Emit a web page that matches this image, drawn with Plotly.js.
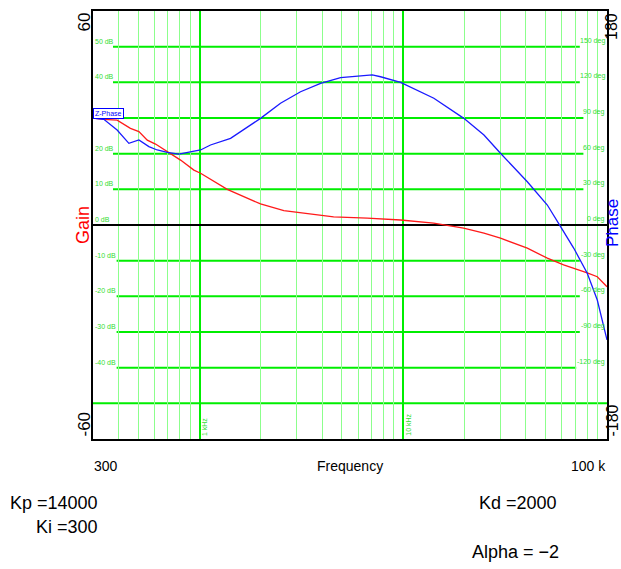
<!DOCTYPE html>
<html>
<head>
<meta charset="utf-8">
<script src="https://cdn.plot.ly/plotly-3.0.1.min.js"></script>
<style>
  html, body { margin: 0; padding: 0; background: #fff; }
  #chart { width: 621px; height: 569px; }
</style>
</head>
<body>
<div id="chart"></div>
<script>
// ---- data ----
const freqGain = [300, 339, 394, 458, 504, 554, 608, 656, 720, 807, 938, 1012, 1368, 1992, 2594, 3379, 4550, 6657, 9700, 14090, 19780, 24890, 30000, 40630, 50940, 61240, 71490, 80000, 89600, 100000];
const gainDb = [30.0, 29.6, 29.4, 27.1, 26.2, 23.8, 22.7, 21.5, 20.1, 18.2, 15.4, 14.5, 10.0, 5.9, 4.0, 3.1, 2.3, 1.9, 1.4, 0.5, -0.9, -2.3, -3.7, -6.5, -9.3, -11.2, -12.4, -13.4, -14.5, -17.3];

const freqPhase = [300, 339, 394, 450, 504, 564, 620, 694, 791, 903, 1012, 1132, 1420, 1992, 2497, 3132, 3928, 4925, 5946, 7046, 7734, 9700, 14130, 19830, 24890, 30000, 40630, 50940, 59180, 68730, 80000, 89600, 100000];
const phaseDeg = [90.0, 88.9, 79.9, 68.7, 71.5, 65.9, 63.1, 61.1, 59.7, 61.6, 63.1, 67.3, 72.9, 89.7, 102.4, 112.1, 119.2, 123.9, 125.3, 126.2, 124.7, 120.0, 106.6, 89.7, 75.7, 60.3, 36.4, 16.8, -1.4, -19.6, -40.6, -63.1, -96.7];

const gainGridDb = [-40, -30, -20, -10, 0, 10, 20, 30, 40, 50];
const phaseGridDeg = [-120, -90, -60, -30, 0, 30, 60, 90, 120, 150];
const majorFreqs = [1000, 10000];
const majorFreqLabels = ['1 kHz', '10 kHz'];
const minorFreqs = [400, 500, 600, 700, 800, 900, 2000, 3000, 4000, 5000, 6000, 7000, 8000, 9000,
                    20000, 30000, 40000, 50000, 60000, 70000, 80000, 90000];
const gainRange = [-60, 60];
const phaseRange = [-180, 180];
const freqRange = [300, 100000];
const freqEndLabels = ['300', '100 k'];
const tagText = 'Z-Phase';
const tagDb = 31.3;
const params = [['Kp =14000', 'Ki =300'], ['Kd =2000', 'Alpha = \u22122']];

// ---- layout geometry ----
const W = 621, H = 569;
const M = { l: 93, r: 14, t: 11, b: 130 };
const PW = W - M.l - M.r, PH = H - M.t - M.b;
const px2x = px => (px - M.l) / PW;
const py2y = py => (H - M.b - py) / PH;

const FONT = 'Liberation Sans, Arial, sans-serif';
const GREEN = '#00ee00';
const LGREEN = '#33dd33';
const CH = 3.6; // approx px per char of the small grid labels

const shapes = [];
const annotations = [];

// horizontal grid segments and their labels
gainGridDb.forEach((v, i) => {
  const lt = v + ' dB';
  const rt = phaseGridDeg[i] + ' deg';
  const tagHere = Math.abs(v - tagDb) < 5;   // label hidden under the trace tag
  if (v !== 0) {
    shapes.push({
      type: 'line', layer: 'between', xref: 'paper', yref: 'y',
      x0: (2 + CH * lt.length) / PW, x1: 1 - (2 + CH * rt.length) / PW,
      y0: v, y1: v, line: { color: GREEN, width: 2 }
    });
  }
  if (!tagHere) {
    annotations.push({
      xref: 'paper', yref: 'y', x: 0, y: v, xanchor: 'left', yanchor: 'bottom',
      xshift: 1, text: lt, showarrow: false, borderpad: 0, yshift: 1,
      font: { family: FONT, size: 7, color: LGREEN }
    });
  }
  annotations.push({
    xref: 'paper', yref: 'y', x: 1, y: v, xanchor: 'right', yanchor: 'bottom',
    xshift: -1, text: rt, showarrow: false, borderpad: 0, yshift: 1,
    font: { family: FONT, size: 7, color: LGREEN }
  });
});
// full-width line at -50 dB (no label)
shapes.push({
  type: 'line', layer: 'between', xref: 'paper', yref: 'y',
  x0: 0, x1: 1, y0: gainRange[0] + 10, y1: gainRange[0] + 10, line: { color: GREEN, width: 2 }
});

// vertical decade labels
majorFreqs.forEach((f, i) => {
  annotations.push({
    xref: 'x', yref: 'paper', x: Math.log10(f), y: 0, xanchor: 'left', yanchor: 'bottom',
    xshift: 0, yshift: 2, textangle: -90, text: majorFreqLabels[i], showarrow: false,
    borderpad: 0, font: { family: FONT, size: 7, color: LGREEN }
  });
});

// axis end labels (centred on given pixel column)
const big = (text, pxc, y, ya, ys, color, size) => annotations.push({
  xref: 'paper', yref: 'paper', x: px2x(pxc), y, xanchor: 'center', yanchor: ya, yshift: ys,
  textangle: -90, text, showarrow: false, borderpad: 0,
  font: { family: FONT, size: size, color }
});
big(String(gainRange[1]), 84, 1, 'top', -1, '#000', 17);
big(String(gainRange[0]), 84, 0, 'bottom', 1, '#000', 17);
big('Gain', 83, 0.5, 'middle', 0, '#ff0000', 18);
big(String(phaseRange[1]), 611.5, 1, 'top', -1, '#000', 16);
big(String(phaseRange[0]), 611.5, 0, 'bottom', 1, '#000', 16);
big('Phase', 612, 0.5, 'middle', 2, '#0000ff', 17);

// frequency axis labels
const bottom = (text, x, xa) => annotations.push({
  xref: 'paper', yref: 'paper', x, y: 0, xanchor: xa, yanchor: 'middle', yshift: -27,
  text, showarrow: false, borderpad: 0, font: { family: FONT, size: 14, color: '#000' }
});
bottom(freqEndLabels[0], 0, 'left');
bottom('Frequency', 0.5, 'center');
bottom(freqEndLabels[1], 1, 'right');

// trace tag
annotations.push({
  xref: 'paper', yref: 'y', x: 0, y: tagDb, xanchor: 'left', yanchor: 'middle',
  text: tagText, showarrow: false, bgcolor: '#fff', bordercolor: '#0000ff', borderwidth: 1,
  borderpad: 1, font: { family: FONT, size: 7, color: '#0000ff' }
});

// parameter texts
const ptxt = (text, pxr, pyc) => annotations.push({
  xref: 'paper', yref: 'paper', x: px2x(pxr), y: py2y(pyc), xanchor: 'right', yanchor: 'middle',
  text, showarrow: false, borderpad: 0, font: { family: FONT, size: 18, color: '#000' }
});
ptxt(params[0][0], 99, 503);
ptxt(params[0][1], 99, 527);
ptxt(params[1][0], 558, 503);
ptxt(params[1][1], 560, 552);

const traces = [
  { x: freqGain, y: gainDb, type: 'scatter', mode: 'lines', name: 'Gain',
    line: { color: '#ff1a1a', width: 1.3 }, yaxis: 'y', hoverinfo: 'skip' },
  { x: freqPhase, y: phaseDeg, type: 'scatter', mode: 'lines', name: 'Z-Phase',
    line: { color: '#1a1aff', width: 1.3 }, yaxis: 'y2', hoverinfo: 'skip' }
];

const layout = {
  width: W, height: H,
  margin: M,
  paper_bgcolor: '#fff', plot_bgcolor: '#fff',
  showlegend: false,
  xaxis: {
    type: 'log', range: [Math.log10(freqRange[0]), Math.log10(freqRange[1])],
    tickmode: 'array', tickvals: majorFreqs, showticklabels: false, ticks: '',
    showgrid: true, gridcolor: GREEN, gridwidth: 2,
    minor: { tickmode: 'array', tickvals: minorFreqs, showgrid: true, gridcolor: '#8cff8c', gridwidth: 1, ticks: '' },
    showline: true, mirror: true, linecolor: '#000', linewidth: 2, zeroline: false, fixedrange: true
  },
  yaxis: {
    range: gainRange, showticklabels: false, ticks: '', showgrid: false,
    zeroline: true, zerolinecolor: '#000', zerolinewidth: 2,
    showline: true, mirror: true, linecolor: '#000', linewidth: 2, fixedrange: true
  },
  yaxis2: {
    range: phaseRange, overlaying: 'y', side: 'right', showticklabels: false, ticks: '',
    showgrid: false, zeroline: false, showline: false, fixedrange: true
  },
  shapes, annotations
};

Plotly.newPlot('chart', traces, layout, { displayModeBar: false, staticPlot: true });
</script>
</body>
</html>
